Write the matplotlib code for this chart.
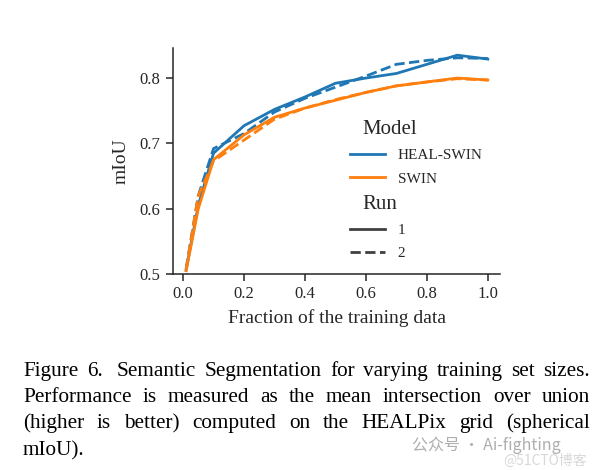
import matplotlib
matplotlib.use("Agg")
import matplotlib.pyplot as plt
from matplotlib.lines import Line2D
import matplotlib.offsetbox as mob

# ---------------- data ----------------
fractions = [0.01, 0.05, 0.1, 0.2, 0.3, 0.4, 0.5, 0.6, 0.7, 0.8, 0.9, 1.0]
heal_run1 = [0.506, 0.605, 0.685, 0.727, 0.752, 0.771, 0.792, 0.800, 0.807, 0.821, 0.835, 0.829]
heal_run2 = [0.508, 0.620, 0.692, 0.715, 0.748, 0.769, 0.786, 0.803, 0.821, 0.827, 0.831, 0.830]
swin_run1 = [0.505, 0.600, 0.675, 0.713, 0.740, 0.754, 0.766, 0.778, 0.788, 0.794, 0.800, 0.797]
swin_run2 = [0.507, 0.620, 0.673, 0.705, 0.737, 0.754, 0.767, 0.778, 0.788, 0.794, 0.799, 0.797]
models = ["HEAL-SWIN", "SWIN"]
runs = ["1", "2"]
yticks = [0.5, 0.6, 0.7, 0.8]
xticks = [0.0, 0.2, 0.4, 0.6, 0.8, 1.0]
caption_lines = [
    "Figure 6.  Semantic Segmentation for varying training set sizes.",
    "Performance is measured as the mean intersection over union",
    "(higher is better) computed on the HEALPix grid (spherical",
    "mIoU).",
]

W, H = 597, 470
plt.rcParams['font.family'] = ['Liberation Serif', 'DejaVu Serif']
plt.rcParams['mathtext.fontset'] = 'stix'

fig = plt.figure(figsize=(W / 100, H / 100), dpi=100)
fig.patch.set_facecolor('white')

ax = fig.add_axes([173 / W, 1 - 274 / H, 327 / W, 226 / H])

blue = '#1f77b4'
orange = '#ff7f0e'
lw = 2.0
dash = (0, (3.7, 1.6))
ax.plot(fractions, heal_run1, color=blue, lw=lw, ls='-')
ax.plot(fractions, heal_run2, color=blue, lw=lw, ls=dash)
ax.plot(fractions, swin_run1, color=orange, lw=lw, ls='-')
ax.plot(fractions, swin_run2, color=orange, lw=lw, ls=dash)

ax.set_xlim(-0.033, 1.04)
ax.set_ylim(0.5, 0.846)
ax.set_xticks(xticks)
ax.set_yticks(yticks)
ax.set_xticklabels([f"{v:.1f}" for v in xticks])
ax.set_yticklabels([f"{v:.1f}" for v in yticks])
for s in ['top', 'right']:
    ax.spines[s].set_visible(False)
for s in ['left', 'bottom']:
    ax.spines[s].set_color('.15')
    ax.spines[s].set_linewidth(1.1)
ax.tick_params(axis='both', which='major', direction='out', length=5, width=1.1,
               color='.15', labelsize=12, labelcolor='.15', pad=4)
ax.set_xlabel("Fraction of the training data", fontsize=14, color='.15', labelpad=5)
ax.set_ylabel("mIoU", fontsize=14, color='.15', labelpad=7)

# legend with subtitles (seaborn style)
handles = [Line2D([], [], visible=False),
           Line2D([], [], color=blue, lw=lw),
           Line2D([], [], color=orange, lw=lw),
           Line2D([], [], visible=False),
           Line2D([], [], color='.25', lw=lw),
           Line2D([], [], color='.25', lw=lw, ls=dash)]
labels = ["Model", models[0], models[1], "Run", runs[0], runs[1]]
leg = fig.legend(handles, labels, loc='upper left',
                 bbox_to_anchor=(338 / W, 1 - 108 / H),
                 frameon=False, fontsize=11, handlelength=2.3,
                 handletextpad=0.8, labelspacing=0.62, borderpad=0.3)
for t in leg.get_texts():
    t.set_color('.15')
hpackers = leg.findobj(mob.VPacker)[0].get_children()
for hp in hpackers:
    draw_area, text_area = hp.get_children()
    arts = draw_area.get_children()
    if not all(a.get_visible() for a in arts):
        draw_area.set_width(0)
        for t in text_area.get_children():
            t.set_size(15)

# ---------------- caption (justified) ----------------
fig.canvas.draw()
r = fig.canvas.get_renderer()
left_px, right_px = 23, 590
baselines = [376, 402, 428, 455]
cap_fs = 15.3
for i, line in enumerate(caption_lines):
    raw = line.split(' ')
    words, weights = [], []
    for w in raw:
        if w == '':
            weights[-1] += 0.6
            continue
        words.append(w)
        weights.append(1.0)
    weights = weights[:-1]
    texts = [fig.text(0, 1 - baselines[i] / H, w, fontsize=cap_fs, va='baseline',
                      ha='left', color='black') for w in words]
    widths = [t.get_window_extent(r).width for t in texts]
    if i < len(caption_lines) - 1:
        gap_unit = (right_px - left_px - sum(widths)) / sum(weights)
    else:
        gap_unit = 5.5
    x = left_px
    for j, t in enumerate(texts):
        t.set_x(x / W)
        x += widths[j]
        if j < len(weights):
            x += gap_unit * weights[j]

# watermark
fig.text(412 / W, 1 - 445 / H, "\u516c\u4f17\u53f7 \u00b7 Ai-fighting", fontsize=11.5,
         color='#9a9a9a', va='center', ha='left', alpha=0.8,
         family=['Noto Sans CJK SC', 'DejaVu Sans'])
fig.text(503 / W, 1 - 461 / H, "@51CTO\u535a\u5ba2", fontsize=10,
         color='#c8c8c8', va='center', ha='left', alpha=0.7,
         family=['Noto Sans CJK SC', 'DejaVu Sans'])

fig.savefig("out.png", dpi=100, facecolor='white')
